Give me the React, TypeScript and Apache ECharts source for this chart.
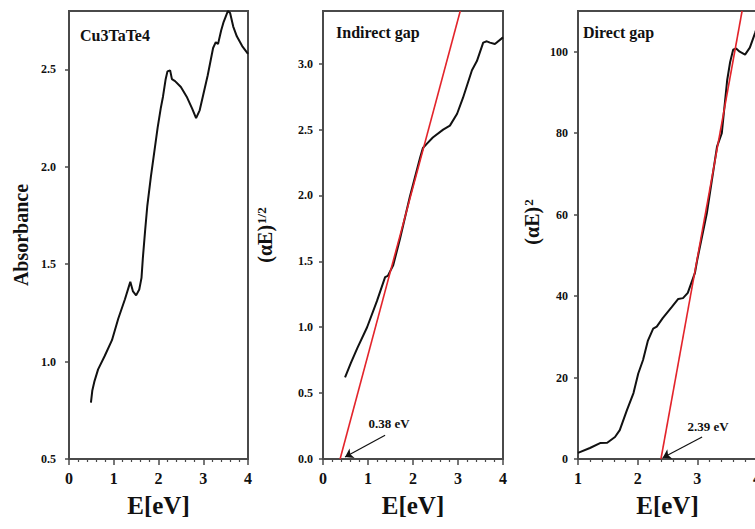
import React, { useEffect, useRef } from 'react';
import * as echarts from 'echarts';

// Panel 1: absorbance
const absE = [0.49, 0.52, 0.57, 0.65, 0.8, 0.96, 1.1, 1.25, 1.33, 1.37, 1.43, 1.5, 1.57, 1.62, 1.65, 1.7, 1.75, 1.83, 1.92, 1.98, 2.05, 2.1, 2.16, 2.2, 2.26, 2.3, 2.37, 2.5, 2.63, 2.75, 2.84, 2.92, 3.0, 3.1, 3.22, 3.28, 3.33, 3.4, 3.45, 3.5, 3.55, 3.6, 3.67, 3.75, 3.87, 4.0];
const absVal = [0.79, 0.85, 0.9, 0.96, 1.03, 1.11, 1.22, 1.32, 1.38, 1.41, 1.36, 1.34, 1.37, 1.43, 1.53, 1.67, 1.8, 1.95, 2.1, 2.2, 2.3, 2.36, 2.45, 2.49, 2.495, 2.45, 2.44, 2.41, 2.36, 2.3, 2.25, 2.29, 2.37, 2.47, 2.61, 2.64, 2.63, 2.7, 2.74, 2.77, 2.8, 2.79, 2.72, 2.67, 2.62, 2.58];

// Panel 2: indirect gap (alpha E)^1/2
const indE = [0.49, 0.62, 0.76, 0.98, 1.2, 1.38, 1.44, 1.56, 1.71, 1.93, 2.16, 2.22, 2.3, 2.44, 2.67, 2.82, 2.98, 3.11, 3.31, 3.42, 3.56, 3.64, 3.71, 3.82, 4.0];
const indVal = [0.62, 0.73, 0.84, 1.0, 1.2, 1.38, 1.39, 1.47, 1.67, 1.99, 2.29, 2.36, 2.39, 2.44, 2.5, 2.53, 2.62, 2.74, 2.95, 3.02, 3.16, 3.17, 3.16, 3.15, 3.2];
const indFitE = [0.38, 3.05];
const indFitVal = [0, 3.4];

// Panel 3: direct gap (alpha E)^2
const dirE = [1.0, 1.2, 1.37, 1.49, 1.62, 1.7, 1.82, 1.93, 2.01, 2.09, 2.17, 2.26, 2.32, 2.42, 2.57, 2.68, 2.76, 2.84, 2.96, 3.0, 3.16, 3.33, 3.41, 3.5, 3.55, 3.6, 3.65, 3.71, 3.8, 3.88, 3.97, 4.0];
const dirVal = [1.5, 2.7, 3.9, 4.0, 5.4, 7.1, 12, 16.2, 21, 24.3, 29, 32, 32.5, 34.6, 37.3, 39.3, 39.5, 40.8, 45.7, 49, 60.4, 76.7, 80, 93, 97.5, 100.5, 100.8, 100, 99.3, 101, 104.7, 106];
const dirFitE = [2.39, 3.75];
const dirFitVal = [0, 110];

const panelTitles = ['Cu3TaTe4', 'Indirect gap', 'Direct gap'];
const xRange12 = [0, 4];
const xRange3 = [1, 4];

const FONT = "'Liberation Serif', 'Times New Roman', serif";
const INK = '#111';
const AXIS = '#4a4a4a';

function pairs(xs: number[], ys: number[]) {
  return xs.map((x, i) => [x, ys[i]]);
}

function xAxisCfg(i: number, min: number, max: number) {
  return {
    type: 'value',
    gridIndex: i,
    min,
    max,
    interval: 1,
    name: 'E[eV]',
    nameLocation: 'middle',
    nameGap: 34,
    nameTextStyle: { fontFamily: FONT, fontWeight: 'bold', fontSize: 25, color: INK },
    axisLine: { show: true, onZero: false, lineStyle: { color: AXIS, width: 2 } },
    axisTick: { show: true, inside: false, length: 6, lineStyle: { color: AXIS, width: 1.5 } },
    minorTick: { show: true, splitNumber: 5, length: 3, lineStyle: { color: AXIS, width: 1.2 } },
    splitLine: { show: false },
    axisLabel: { fontFamily: FONT, fontWeight: 'bold', fontSize: 16, color: INK, margin: 11, hideOverlap: false },
  };
}

function yAxisCfg(i: number, min: number, max: number, interval: number, digits: number, name: string, nameGap: number, margin: number, padding?: number[]) {
  return {
    type: 'value',
    gridIndex: i,
    min,
    max,
    interval,
    name,
    nameLocation: 'middle',
    nameGap,
    nameTextStyle: {
      fontFamily: FONT,
      fontWeight: 'bold',
      fontSize: 20,
      color: INK,
      padding: padding || 0,
      rich: {
        m: { fontFamily: FONT, fontWeight: 'bold', fontSize: 20, color: INK },
        s: { fontFamily: FONT, fontWeight: 'bold', fontSize: 13, color: INK, verticalAlign: 'top', padding: [0, 0, 6, 1] },
      },
    },
    axisLine: { show: true, onZero: false, lineStyle: { color: AXIS, width: 2 } },
    axisTick: { show: true, inside: false, length: 4, lineStyle: { color: AXIS, width: 1.5 } },
    splitLine: { show: false },
    axisLabel: {
      fontFamily: FONT,
      fontWeight: 'bold',
      fontSize: 12,
      color: INK,
      margin,
      showMaxLabel: false,
      formatter: (v: number) => v.toFixed(digits),
    },
  };
}

const gridBase = {
  top: 11,
  height: 448,
  show: true,
  borderColor: AXIS,
  borderWidth: 2,
  backgroundColor: 'transparent',
  containLabel: false,
  outerBoundsMode: 'none',
};

export default function App() {
  const ref = useRef<HTMLDivElement>(null);
  useEffect(() => {
    if (!ref.current) return;
    const chart = echarts.init(ref.current, null, { renderer: 'svg' });
    const textStyleTitle = { fontFamily: FONT, fontWeight: 'bold', fontSize: 16, color: INK };
    chart.setOption({
      animation: false,
      backgroundColor: '#fff',
      title: [
        { text: panelTitles[0], left: 80, top: 27, padding: 0, textStyle: textStyleTitle },
        { text: panelTitles[1], left: 336, top: 24, padding: 0, textStyle: textStyleTitle },
        { text: panelTitles[2], left: 583, top: 24, padding: 0, textStyle: textStyleTitle },
      ],
      grid: [
        { ...gridBase, left: 69, width: 179 },
        { ...gridBase, left: 323, width: 180 },
        { ...gridBase, left: 578, width: 179 },
      ],
      xAxis: [
        xAxisCfg(0, xRange12[0], xRange12[1]),
        xAxisCfg(1, xRange12[0], xRange12[1]),
        xAxisCfg(2, xRange3[0], xRange3[1]),
      ],
      yAxis: [
        yAxisCfg(0, 0.5, 2.8, 0.5, 1, 'Absorbance', 38, 13),
        yAxisCfg(1, 0, 3.4, 0.5, 1, '{m|(αE)}{s|1/2}', 48, 10),
        yAxisCfg(2, 0, 110, 20, 0, '{m|(αE)}{s|2}', 36, 10, [0, 0, 0, 26]),
      ],
      series: [
        {
          type: 'line', xAxisIndex: 0, yAxisIndex: 0, showSymbol: false, symbol: 'none',
          data: pairs(absE, absVal), lineStyle: { color: INK, width: 2 }, z: 3,
        },
        {
          type: 'line', xAxisIndex: 1, yAxisIndex: 1, showSymbol: false, symbol: 'none',
          data: pairs(indE, indVal), lineStyle: { color: INK, width: 2 }, z: 3,
        },
        {
          type: 'line', xAxisIndex: 1, yAxisIndex: 1, showSymbol: false, symbol: 'none',
          data: pairs(indFitE, indFitVal), lineStyle: { color: '#e3242b', width: 1.6 }, z: 4,
          markLine: {
            silent: true, symbol: ['none', 'arrow'], symbolSize: 8, label: { show: false },
            lineStyle: { color: INK, width: 1.2, type: 'solid' },
            data: [[{ coord: [1.38, 0.18] }, { coord: [0.49, 0.015] }]],
          },
          markPoint: {
            silent: true, symbol: 'circle', symbolSize: 0,
            label: { show: true, position: 'inside', formatter: '0.38 eV', fontFamily: FONT, fontWeight: 'bold', fontSize: 13, color: INK },
            data: [{ coord: [1.47, 0.27] }],
          },
        },
        {
          type: 'line', xAxisIndex: 2, yAxisIndex: 2, showSymbol: false, symbol: 'none',
          data: pairs(dirE, dirVal), lineStyle: { color: INK, width: 2 }, z: 3,
        },
        {
          type: 'line', xAxisIndex: 2, yAxisIndex: 2, showSymbol: false, symbol: 'none',
          data: pairs(dirFitE, dirFitVal), lineStyle: { color: '#e3242b', width: 1.6 }, z: 4,
          markLine: {
            silent: true, symbol: ['none', 'arrow'], symbolSize: 8, label: { show: false },
            lineStyle: { color: INK, width: 1.2, type: 'solid' },
            data: [[{ coord: [3.08, 5.4] }, { coord: [2.42, 0.3] }]],
          },
          markPoint: {
            silent: true, symbol: 'circle', symbolSize: 0,
            label: { show: true, position: 'inside', formatter: '2.39 eV', fontFamily: FONT, fontWeight: 'bold', fontSize: 13, color: INK },
            data: [{ coord: [3.18, 7.9] }],
          },
        },
      ],
    });
    return () => chart.dispose();
  }, []);
  return (
    <div
      ref={ref}
      style={{ position: 'fixed', left: 0, top: 0, width: 755, height: 529, background: '#fff' }}
    />
  );
}
